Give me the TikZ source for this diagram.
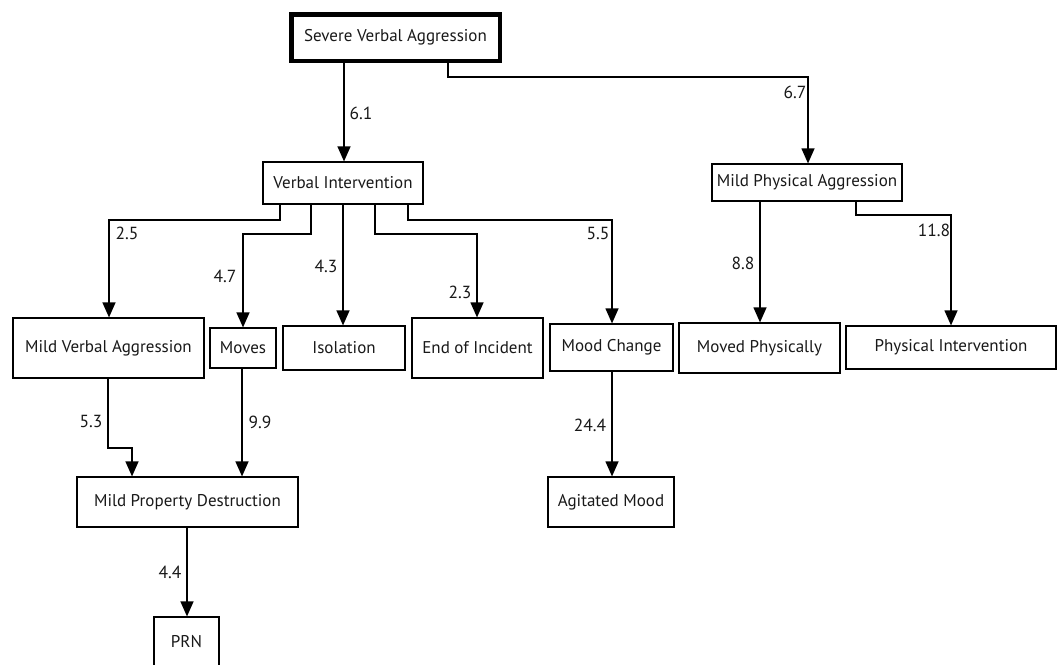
\documentclass[tikz,border=0pt]{standalone}
\usepackage{fontspec}
\setmainfont{PT Sans}
\usetikzlibrary{arrows.meta}
\tikzset{
  box/.style={draw=black, line width=1.2pt, inner sep=0pt, align=center, font=\fontsize{17}{20}\selectfont, text=black!90},
  lbl/.style={inner sep=0pt, font=\fontsize{17.5}{20}\selectfont, text=black!90},
  arr/.style={line width=1.2pt, -{Triangle[length=15pt,width=13pt]}},
}
\begin{document}
\begin{tikzpicture}[x=1pt,y=-1pt]
\useasboundingbox (0,0) rectangle (1059,664);
\clip (0,0) rectangle (1059,664);
\fill[white] (0,0) rectangle (1059,664);
% nodes
\node[box, line width=4.5pt, minimum width=208.5pt, minimum height=46.5pt] (sva) at (395.5,37.5) {Severe Verbal Aggression};
\node[box, minimum width=160pt, minimum height=42pt] (vi) at (343,183) {Verbal Intervention};
\node[box, minimum width=190pt, minimum height=37pt] (mpa) at (807,182.5) {Mild Physical Aggression};
\node[box, minimum width=191pt, minimum height=60pt] (mva) at (108.5,348) {Mild Verbal Aggression};
\node[box, minimum width=66pt, minimum height=40pt] (moves) at (243,348) {Moves};
\node[box, minimum width=122pt, minimum height=44pt] (iso) at (344,348) {Isolation};
\node[box, minimum width=131pt, minimum height=60pt] (eoi) at (477.5,348) {End of Incident};
\node[box, minimum width=123pt, minimum height=47pt] (mc) at (611.5,347.5) {Mood Change};
\node[box, minimum width=161pt, minimum height=50pt] (mp) at (759.5,348) {Moved Physically};
\node[box, minimum width=210pt, minimum height=43pt] (pi) at (951,347.5) {Physical Intervention};
\node[box, minimum width=221pt, minimum height=50pt] (mpd) at (187.5,502) {Mild Property Destruction};
\node[box, minimum width=126pt, minimum height=50pt] (am) at (611,502) {Agitated Mood};
\node[box, minimum width=65pt, minimum height=50pt] (prn) at (186.5,642) {PRN};
% connectors
\draw[arr] (344,0 |- sva.south) -- (344,0 |- vi.north);
\draw[arr] (448,0 |- sva.south) -- (448,77) -- (808,77) -- (808,0 |- mpa.north);
\draw[arr] (280,0 |- vi.south) -- (280,220) -- (109,220) -- (109,0 |- mva.north);
\draw[arr] (311,0 |- vi.south) -- (311,234) -- (243,234) -- (243,0 |- moves.north);
\draw[arr] (343,0 |- vi.south) -- (343,0 |- iso.north);
\draw[arr] (375,0 |- vi.south) -- (375,234) -- (477,234) -- (477,0 |- eoi.north);
\draw[arr] (408,0 |- vi.south) -- (408,220) -- (612,220) -- (612,0 |- mc.north);
\draw[arr] (760,0 |- mpa.south) -- (760,0 |- mp.north);
\draw[arr] (856,0 |- mpa.south) -- (856,215) -- (951,215) -- (951,0 |- pi.north);
\draw[arr] (108,0 |- mva.south) -- (108,448) -- (132,448) -- (132,0 |- mpd.north);
\draw[arr] (242,0 |- moves.south) -- (242,0 |- mpd.north);
\draw[arr] (612,0 |- mc.south) -- (612,0 |- am.north);
\draw[arr] (187,0 |- mpd.south) -- (187,0 |- prn.north);
% labels
\node[lbl] (l61) at (361,113) {6.1};
\node[lbl] (l67) at (795,92) {6.7};
\node[lbl] (l25) at (127,233) {2.5};
\node[lbl] (l47) at (225,276) {4.7};
\node[lbl] (l43) at (326,266) {4.3};
\node[lbl] (l23) at (460,292) {2.3};
\node[lbl] (l55) at (598,233) {5.5};
\node[lbl] (l88) at (743,263) {8.8};
\node[lbl] (l118) at (934,230) {11.8};
\node[lbl] (l53) at (91,421) {5.3};
\node[lbl] (l99) at (260,422) {9.9};
\node[lbl] (l244) at (590,425) {24.4};
\node[lbl] (l44) at (170,572) {4.4};
\end{tikzpicture}
\end{document}
